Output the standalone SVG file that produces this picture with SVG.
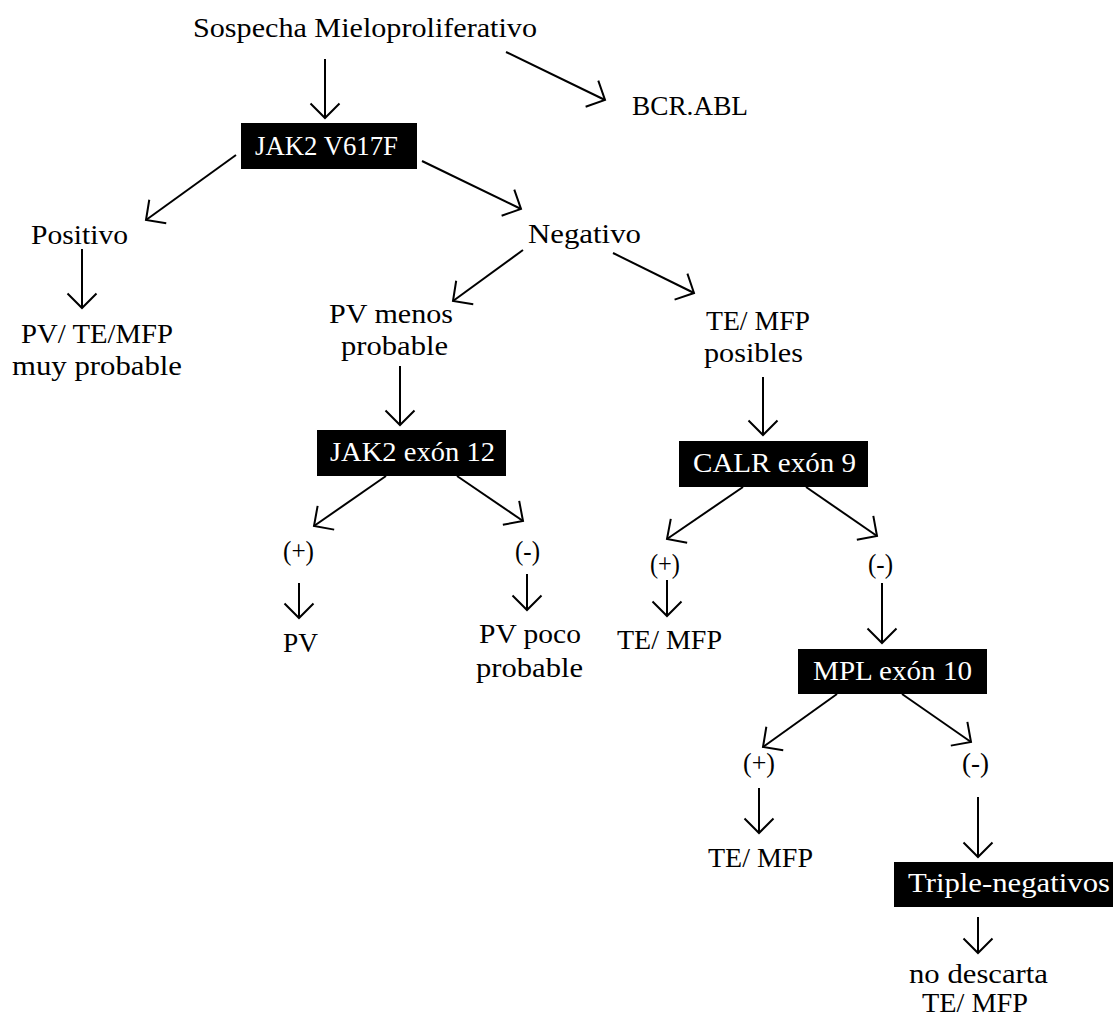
<svg xmlns="http://www.w3.org/2000/svg" width="1113" height="1019" viewBox="0 0 1113 1019">
<style>
text{font-family:"Liberation Serif","DejaVu Serif",serif;font-size:27px;fill:#000;text-anchor:middle}
.box rect{fill:#000}
.box text{fill:#fff}
#connectors line{stroke:#000;stroke-width:2;fill:none;marker-end:url(#arr)}
</style>
<defs>
<marker id="arr" markerUnits="userSpaceOnUse" markerWidth="40" markerHeight="40" refX="0" refY="0" orient="auto" overflow="visible">
<path d="M-14.5,-14.5 L0,0 L-14.5,14.5" fill="none" stroke="#000" stroke-width="2"/>
</marker>
</defs>
<rect width="1113" height="1019" fill="#fff"/>
<g id="connectors">
<line x1="325" y1="59" x2="325" y2="118"/>
<line x1="506" y1="52" x2="605" y2="100"/>
<line x1="236" y1="155" x2="146" y2="220"/>
<line x1="422" y1="161" x2="521" y2="209"/>
<line x1="82" y1="249" x2="82" y2="308"/>
<line x1="523" y1="250" x2="453" y2="301"/>
<line x1="613" y1="253" x2="694" y2="293"/>
<line x1="400" y1="366" x2="400" y2="425"/>
<line x1="763" y1="377" x2="763" y2="435"/>
<line x1="386" y1="476" x2="314" y2="526"/>
<line x1="457" y1="476" x2="523" y2="521"/>
<line x1="299" y1="583" x2="299" y2="618"/>
<line x1="527" y1="574" x2="527" y2="610"/>
<line x1="743" y1="487" x2="667" y2="539"/>
<line x1="806" y1="487" x2="877" y2="536"/>
<line x1="667" y1="580" x2="667" y2="616"/>
<line x1="882" y1="583" x2="882" y2="643"/>
<line x1="837" y1="694" x2="763" y2="747"/>
<line x1="902" y1="694" x2="971" y2="742"/>
<line x1="759" y1="788" x2="759" y2="833"/>
<line x1="978" y1="797" x2="978" y2="857"/>
<line x1="978" y1="917" x2="978" y2="953"/>
</g>
<g id="n-sospecha"><text x="365" y="37" textLength="344" lengthAdjust="spacingAndGlyphs">Sospecha Mieloproliferativo</text></g>
<g id="n-bcr"><text x="690" y="115" textLength="116" lengthAdjust="spacingAndGlyphs">BCR.ABL</text></g>
<g id="n-jak2" class="box"><rect x="241" y="123" width="176" height="46"/><text x="326.5" y="155" textLength="143" lengthAdjust="spacingAndGlyphs">JAK2 V617F</text></g>
<g id="n-positivo"><text x="79.5" y="244" textLength="97" lengthAdjust="spacingAndGlyphs">Positivo</text></g>
<g id="n-pvtemfp"><text x="97" y="343" textLength="152" lengthAdjust="spacingAndGlyphs">PV/ TE/MFP</text><text x="97" y="375" textLength="170" lengthAdjust="spacingAndGlyphs">muy probable</text></g>
<g id="n-negativo"><text x="584.5" y="243" textLength="113" lengthAdjust="spacingAndGlyphs">Negativo</text></g>
<g id="n-pvmenos"><text x="391" y="323" textLength="124" lengthAdjust="spacingAndGlyphs">PV menos</text><text x="394.5" y="355" textLength="107" lengthAdjust="spacingAndGlyphs">probable</text></g>
<g id="n-temfp-posibles"><text x="758" y="330" textLength="104" lengthAdjust="spacingAndGlyphs">TE/ MFP</text><text x="753.5" y="362" textLength="99" lengthAdjust="spacingAndGlyphs">posibles</text></g>
<g id="n-jak2ex12" class="box"><rect x="317" y="430" width="189" height="46"/><text x="412.5" y="461" textLength="165" lengthAdjust="spacingAndGlyphs">JAK2 exón 12</text></g>
<g id="n-calr" class="box"><rect x="679" y="441" width="189" height="46"/><text x="774.5" y="472" textLength="163" lengthAdjust="spacingAndGlyphs">CALR exón 9</text></g>
<g id="n-jak-pos"><text x="298.5" y="560" textLength="31" lengthAdjust="spacingAndGlyphs">(+)</text></g>
<g id="n-jak-neg"><text x="527.5" y="560" textLength="25" lengthAdjust="spacingAndGlyphs">(-)</text></g>
<g id="n-pv"><text x="300.5" y="652" textLength="35" lengthAdjust="spacingAndGlyphs">PV</text></g>
<g id="n-pvpoco"><text x="530" y="643" textLength="102" lengthAdjust="spacingAndGlyphs">PV poco</text><text x="529.5" y="677" textLength="107" lengthAdjust="spacingAndGlyphs">probable</text></g>
<g id="n-calr-pos"><text x="665" y="573" textLength="30" lengthAdjust="spacingAndGlyphs">(+)</text></g>
<g id="n-calr-neg"><text x="880.5" y="573" textLength="25" lengthAdjust="spacingAndGlyphs">(-)</text></g>
<g id="n-calr-temfp"><text x="669.5" y="649" textLength="105" lengthAdjust="spacingAndGlyphs">TE/ MFP</text></g>
<g id="n-mpl" class="box"><rect x="798" y="649" width="189" height="45"/><text x="892.5" y="680" textLength="159" lengthAdjust="spacingAndGlyphs">MPL exón 10</text></g>
<g id="n-mpl-pos"><text x="759" y="772" textLength="32" lengthAdjust="spacingAndGlyphs">(+)</text></g>
<g id="n-mpl-neg"><text x="975.5" y="772" textLength="27" lengthAdjust="spacingAndGlyphs">(-)</text></g>
<g id="n-mpl-temfp"><text x="760.5" y="867" textLength="105" lengthAdjust="spacingAndGlyphs">TE/ MFP</text></g>
<g id="n-triple" class="box"><rect x="894" y="862" width="219" height="45"/><text x="1009" y="892" textLength="202" lengthAdjust="spacingAndGlyphs">Triple-negativos</text></g>
<g id="n-nodescarta"><text x="978.5" y="983" textLength="139" lengthAdjust="spacingAndGlyphs">no descarta</text><text x="975" y="1012" textLength="106" lengthAdjust="spacingAndGlyphs">TE/ MFP</text></g>
</svg>
